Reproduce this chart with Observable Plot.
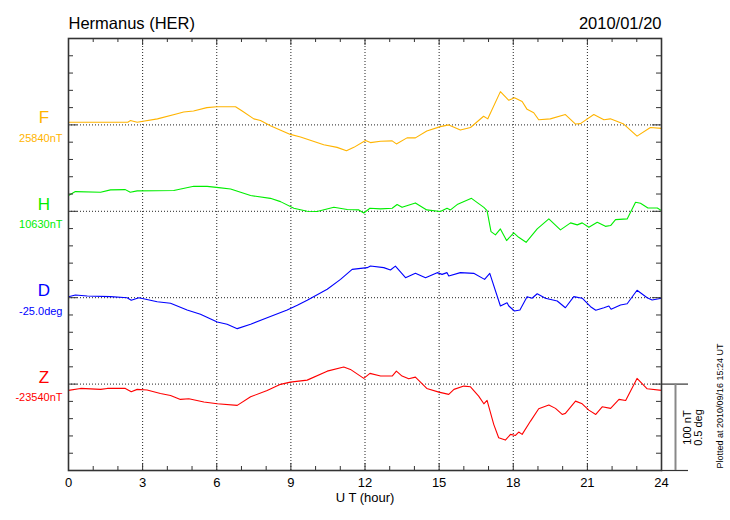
<!DOCTYPE html>
<html><head><meta charset="utf-8">
<script src="https://cdn.jsdelivr.net/npm/d3@7"></script>
<script src="https://cdn.jsdelivr.net/npm/@observablehq/plot@0.6"></script>
<style>body{margin:0;background:#fff} svg{display:block}</style>
</head><body><div id="chart"></div>
<script>
// ---- data ----
const fHours = [0,0.9,2.4,2.5,2.78,3.6,4.4,4.66,5.06,5.6,6.0,6.76,7.03,7.5,7.77,8.17,8.98,9.39,10.33,10.87,11.25,11.55,12.02,12.22,12.63,13.1,13.27,13.7,14.04,14.5,15.05,15.39,15.86,16.27,16.8,16.97,17.48,17.82,18.05,18.36,18.56,18.83,19.03,19.5,20.11,20.52,20.72,21.26,21.67,21.93,22.47,23.01,23.55,24.0];
const fValues = [25843,25843,25843,25845,25843,25847,25853,25855,25856,25860,25861,25861,25856,25847,25845,25839,25829,25826,25817,25814,25810,25814,25822,25819.5,25821,25821.5,25818,25825,25825,25833,25838,25840,25834,25837,25850,25847,25878.5,25868.5,25871.5,25867,25858,25854,25846,25847,25852,25841,25841.5,25852,25846,25847,25841,25827,25837,25836];

const hHours = [0,0.28,1.3,1.7,2.3,2.5,2.78,4.26,5.07,5.61,6.08,6.56,7.37,8.17,8.58,9.12,9.66,10.06,10.74,11.28,11.75,11.95,12.2,12.63,13.1,13.3,13.5,14.04,14.5,15.05,15.32,15.46,15.73,16.31,16.81,16.94,17.1,17.28,17.48,17.73,18.02,18.22,18.52,18.97,19.44,19.91,20.32,20.59,20.79,21.06,21.4,21.73,21.94,22.14,22.61,22.95,23.15,23.45,23.83,24.0];
const hValues = [10648.2,10652.8,10652,10654.8,10655.1,10652,10653.6,10654,10658.9,10658.9,10657.4,10655.9,10648.2,10645,10641.2,10633.5,10630,10629.7,10634.6,10632,10631.6,10628.1,10633.5,10632.8,10633.5,10637.8,10634.6,10639.7,10631.6,10629.7,10633.5,10631.6,10637.8,10645,10634.6,10630.8,10606.5,10602.7,10609.6,10596.1,10605,10599.9,10594.1,10609.6,10621.2,10608.5,10616.6,10614.3,10616.6,10611.5,10617.3,10612.6,10613.5,10620.4,10621.2,10640.4,10639.3,10633.9,10633.9,10630.8];

const dHours = [0,0.28,0.76,1.7,2.37,2.54,2.85,3.59,4.13,4.8,5.34,6.02,6.42,6.83,7.37,8.04,8.85,9.26,9.66,10.47,11.01,11.48,12.09,12.22,12.76,13.03,13.23,13.64,14.04,14.45,14.92,15.12,15.32,15.39,15.86,16.4,16.84,17.05,17.48,17.75,17.82,18.05,18.27,18.56,18.76,18.97,19.3,19.78,20.11,20.45,20.79,21.13,21.34,21.67,21.87,21.96,22.34,22.61,23.01,23.42,23.62,24.0];
const dValues = [-24.994,-24.984,-24.990,-24.994,-25.000,-25.015,-25.000,-25.023,-25.032,-25.071,-25.096,-25.141,-25.154,-25.179,-25.154,-25.116,-25.071,-25.044,-25.015,-24.951,-24.894,-24.836,-24.826,-24.817,-24.826,-24.840,-24.817,-24.884,-24.859,-24.884,-24.855,-24.865,-24.855,-24.874,-24.855,-24.859,-24.894,-24.859,-25.048,-25.029,-25.048,-25.077,-25.071,-24.994,-25.003,-24.977,-25.003,-25.019,-25.058,-24.994,-25.003,-25.052,-25.073,-25.058,-25.048,-25.067,-25.042,-25.035,-24.957,-25.000,-25.013,-25.003];

const zHours = [0,0.49,1.3,1.57,2.3,2.54,2.78,3.18,3.72,4.13,4.53,4.87,5.48,6.02,6.83,7.37,8.04,8.58,8.98,9.66,10.47,11.14,11.41,11.95,12.2,12.63,13.1,13.27,13.5,13.77,14.04,14.5,14.99,15.39,15.6,16.0,16.27,16.6,16.81,16.94,17.21,17.41,17.68,17.89,18.09,18.22,18.36,18.7,19.03,19.44,19.71,19.98,20.11,20.52,20.79,21.06,21.34,21.6,21.94,22.28,22.55,23.01,23.42,24.0];
const zValues = [-23547.3,-23545,-23546.1,-23545,-23545,-23548.9,-23546.1,-23546.9,-23550.8,-23553.1,-23557.7,-23557,-23560.8,-23562.8,-23564.6,-23554.7,-23547.3,-23540.3,-23537.7,-23535.4,-23525,-23520.3,-23523,-23533.4,-23527.6,-23530.7,-23530.7,-23525,-23530.7,-23533.9,-23531.9,-23545,-23549.3,-23551.9,-23546.1,-23542.3,-23543.1,-23553.9,-23562.8,-23558.9,-23586.6,-23602.1,-23604.8,-23598.2,-23599.4,-23595.5,-23598.2,-23582.8,-23568.6,-23564.3,-23568.1,-23575.1,-23573.9,-23559.7,-23562.8,-23570.1,-23575.1,-23566.3,-23568.1,-23557.7,-23558.9,-23533.4,-23545.4,-23547.3];

const components = ["F","H","D","Z"];
const baseLabels = ["25840nT","10630nT","-25.0deg","-23540nT"];
const baseValues = [25840,10630,-25.0,-23540];
const unitsPerValue = [1,1,200,1];   // 100 nT  <->  0.5 deg
const colors = ["#ffb400","#00ee00","#0000ff","#ff0000"];
const xLabelTicks = [0,3,6,9,12,15,18,21,24];
const scaleText = ["100 nT","0.5 deg"];
const titleLeft = "Hermanus (HER)";
const titleRight = "2010/01/20";
const plottedAt = "Plotted at 2010/09/16 15:24 UT";

// ---- layout ----
const W = 730, H = 520, mL = 68, mR = 69, mT = 38, mB = 50;
const yMax = 500;                       // 25 intervals of 20 nT
const panelBase = [400,300,200,100];    // baseline of each trace in axis units
const pxY = (H - mT - mB) / yMax, pxX = (W - mL - mR) / 24;
const yLen = px => px / pxY, xLen = px => px / pxX;

const series = [[fHours,fValues],[hHours,hValues],[dHours,dValues],[zHours,zValues]];
const rows = [];
series.forEach(([hs, vs], i) => hs.forEach((t, j) => rows.push({
  t, comp: components[i], y: panelBase[i] + (vs[j] - baseValues[i]) * unitsPerValue[i]
})));
const labels = components.map((c, i) => ({c, lab: baseLabels[i], y: panelBase[i], color: colors[i]}));

const hoursAll = d3.range(0, 25);
const majors = d3.range(3, 22, 3);
const yTicks = d3.range(0, yMax + 1, 20);
const font = "'Liberation Sans', Arial, Helvetica, sans-serif";

const chart = Plot.plot({
  width: W, height: H, marginLeft: mL, marginRight: mR, marginTop: mT, marginBottom: mB,
  style: {fontFamily: font, background: "#fff"},
  x: {domain: [0, 24], axis: null},
  y: {domain: [0, yMax], axis: null},
  color: {domain: components, range: colors},
  marks: [
    Plot.ruleX(majors, {x: d => d, y1: 0, y2: yMax, stroke: "#222", strokeWidth: 1, strokeDasharray: "1,2"}),
    Plot.ruleY(panelBase, {y: d => d, x1: 0, x2: 24, stroke: "#222", strokeWidth: 1, strokeDasharray: "1,2"}),
    Plot.line(rows, {x: "t", y: "y", z: "comp", stroke: "comp", strokeWidth: 1.1}),
    // ticks
    Plot.ruleX(hoursAll, {x: d => d, y1: 0, y2: d => yLen(d % 3 === 0 ? 7 : 4), stroke: "#333"}),
    Plot.ruleX(hoursAll, {x: d => d, y1: yMax, y2: d => yMax - yLen(d % 3 === 0 ? 7 : 4), stroke: "#333"}),
    Plot.ruleY(yTicks, {y: d => d, x1: 0, x2: d => xLen(panelBase.includes(d) ? 9 : 5), stroke: "#333"}),
    Plot.ruleY(yTicks, {y: d => d, x1: 24, x2: d => 24 - xLen(panelBase.includes(d) ? 9 : 5), stroke: "#333"}),
    Plot.frame({stroke: "#333", strokeWidth: 1.6}),
    // scale bar
    Plot.ruleY([panelBase[3], 0], {y: d => d, x1: 24, x2: 24 + xLen(27), stroke: "#333", strokeWidth: 1.2}),
    Plot.ruleX([24 + xLen(14)], {x: d => d, y1: 0, y2: panelBase[3], stroke: "#888", strokeWidth: 2}),
    Plot.text(scaleText, {x: (d, i) => 24 + xLen(i === 0 ? 26 : 37), y: yLen(43), text: d => d, rotate: -90,
      fontSize: 11, fill: "#000"}),
    // left labels
    Plot.text(labels, {x: 0, y: "y", text: "c", dx: -24.5, dy: -7, fill: "color", fontSize: 17}),
    Plot.text(labels, {x: 0, y: "y", text: "lab", dx: -6, dy: 13.5, fill: "color", fontSize: 11, textAnchor: "end"}),
    // x tick labels
    Plot.text(xLabelTicks, {x: d => d, text: d => String(d), frameAnchor: "bottom", dy: 7, lineAnchor: "top", fontSize: 13, fill: "#000"}),
    Plot.text(["U T (hour)"], {x: 12, frameAnchor: "bottom", dy: 22, lineAnchor: "top", fontSize: 13, fill: "#000"}),
    // titles
    Plot.text([titleLeft], {frameAnchor: "top-left", textAnchor: "start", lineAnchor: "bottom", dy: -10, fontSize: 16.5, fill: "#000"}),
    Plot.text([titleRight], {frameAnchor: "top-right", textAnchor: "end", lineAnchor: "bottom", dy: -10, fontSize: 16.5, fill: "#000"}),
    Plot.text([plottedAt], {frameAnchor: "bottom-right", dx: 61, dy: -2, rotate: -90, textAnchor: "start", fontSize: 9, fill: "#000"})
  ]
});
document.getElementById("chart").appendChild(chart);
</script>
</body></html>
